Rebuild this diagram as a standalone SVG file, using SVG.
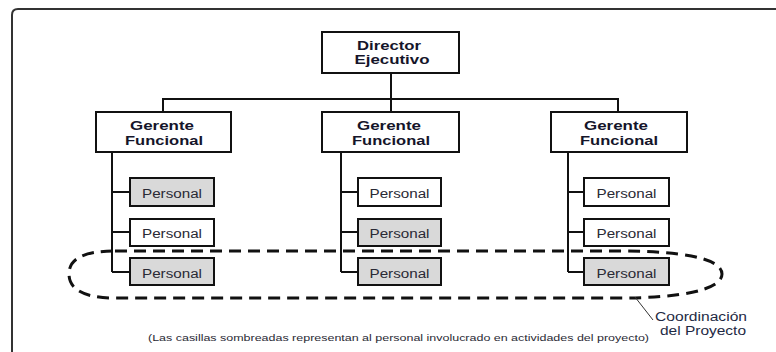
<svg xmlns="http://www.w3.org/2000/svg" width="776" height="352" viewBox="0 0 776 352">
<style>
.box{fill:#fff;stroke:#111;stroke-width:2}
.sh{fill:#d9d9d9;stroke:#111;stroke-width:2}
.ln{fill:none;stroke:#111;stroke-width:2}
.b{font-family:"Liberation Sans",Arial,sans-serif;font-weight:bold;font-size:13.5px;fill:#15152a;text-anchor:middle}
.p{font-family:"Liberation Sans",Arial,sans-serif;font-size:12px;fill:#2a2a35;text-anchor:middle}
.n{font-family:"Liberation Sans",Arial,sans-serif;font-size:12px;fill:#1e2a44}
.f{font-family:"Liberation Sans",Arial,sans-serif;font-size:9.5px;fill:#2a2a35}
</style>
<rect width="776" height="352" fill="#fff"/>
<path d="M12,352 V15 Q12,9 18,9 H776" fill="none" stroke="#333" stroke-width="2"/>
<g id="connectors" class="ln">
<path d="M391,73 V112 M163,112 V99 H618 V112"/>
<path d="M112,152 V272 M112,192 H130 M112,232 H130 M112,272 H130"/>
<path d="M341,152 V272 M341,192 H358 M341,232 H358 M341,272 H358"/>
<path d="M568,152 V272 M568,192 H584 M568,232 H584 M568,272 H584"/>
</g>
<g id="director"><rect class="box" x="322" y="32" width="137" height="41"/>
<text class="b" x="389" y="50" textLength="64" lengthAdjust="spacingAndGlyphs">Director</text>
<text class="b" x="392" y="64" textLength="75" lengthAdjust="spacingAndGlyphs">Ejecutivo</text></g>
<g id="gerente1"><rect class="box" x="96" y="112" width="135" height="40"/>
<text class="b" x="162" y="129.5" textLength="64" lengthAdjust="spacingAndGlyphs">Gerente</text>
<text class="b" x="164" y="144.5" textLength="78" lengthAdjust="spacingAndGlyphs">Funcional</text></g>
<g id="gerente2"><rect class="box" x="322" y="112" width="137" height="40"/>
<text class="b" x="389" y="129.5" textLength="64" lengthAdjust="spacingAndGlyphs">Gerente</text>
<text class="b" x="391" y="144.5" textLength="78" lengthAdjust="spacingAndGlyphs">Funcional</text></g>
<g id="gerente3"><rect class="box" x="551" y="112" width="136" height="40"/>
<text class="b" x="616" y="129.5" textLength="64" lengthAdjust="spacingAndGlyphs">Gerente</text>
<text class="b" x="619" y="144.5" textLength="78" lengthAdjust="spacingAndGlyphs">Funcional</text></g>
<g id="p11"><rect class="sh" x="130" y="178" width="84" height="28"/><text class="p" x="172" y="197.5" textLength="60" lengthAdjust="spacingAndGlyphs">Personal</text></g>
<g id="p12"><rect class="box" x="130" y="219" width="84" height="27"/><text class="p" x="172" y="237.5" textLength="60" lengthAdjust="spacingAndGlyphs">Personal</text></g>
<g id="p13"><rect class="sh" x="130" y="258" width="84" height="27"/><text class="p" x="172" y="277.5" textLength="60" lengthAdjust="spacingAndGlyphs">Personal</text></g>
<g id="p21"><rect class="box" x="358" y="178" width="83" height="28"/><text class="p" x="399.5" y="197.5" textLength="60" lengthAdjust="spacingAndGlyphs">Personal</text></g>
<g id="p22"><rect class="sh" x="358" y="219" width="83" height="27"/><text class="p" x="399.5" y="237.5" textLength="60" lengthAdjust="spacingAndGlyphs">Personal</text></g>
<g id="p23"><rect class="sh" x="358" y="258" width="83" height="27"/><text class="p" x="399.5" y="277.5" textLength="60" lengthAdjust="spacingAndGlyphs">Personal</text></g>
<g id="p31"><rect class="box" x="584" y="178" width="85" height="28"/><text class="p" x="626.5" y="197.5" textLength="60" lengthAdjust="spacingAndGlyphs">Personal</text></g>
<g id="p32"><rect class="box" x="584" y="219" width="85" height="27"/><text class="p" x="626.5" y="237.5" textLength="60" lengthAdjust="spacingAndGlyphs">Personal</text></g>
<g id="p33"><rect class="sh" x="584" y="258" width="85" height="27"/><text class="p" x="626.5" y="277.5" textLength="60" lengthAdjust="spacingAndGlyphs">Personal</text></g>
<g id="coordinacion">
<path d="M115,251 H620 C680,251 722,258 722,274 C722,290 680,298 620,298 H115 C85,298 69,290 69,274 C69,258 85,251 115,251 Z" fill="none" stroke="#111" stroke-width="3" stroke-dasharray="12,7"/>
<path d="M635,297 L653,320" fill="none" stroke="#333" stroke-width="1"/>
<text class="n" x="655" y="321" textLength="92" lengthAdjust="spacingAndGlyphs">Coordinación</text>
<text class="n" x="660" y="335" textLength="86" lengthAdjust="spacingAndGlyphs">del Proyecto</text>
</g>
<text class="f" x="148" y="341" textLength="501" lengthAdjust="spacingAndGlyphs">(Las casillas sombreadas representan al personal involucrado en actividades del proyecto)</text>
</svg>
